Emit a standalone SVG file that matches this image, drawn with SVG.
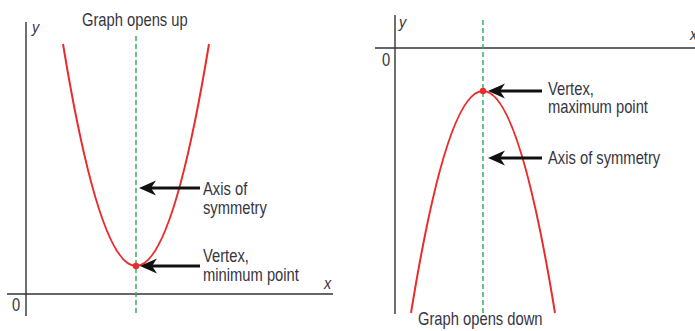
<svg xmlns="http://www.w3.org/2000/svg" width="695" height="331" viewBox="0 0 695 331">
<style>
.t{font-family:"Liberation Sans",Arimo,Arial,sans-serif;font-size:18px;fill:#35353f}
.v{font-family:"Liberation Sans",Arimo,Arial,sans-serif;font-size:17px;font-style:italic;fill:#35353f}
.ax{stroke:#333;stroke-width:1.4;fill:none}
.sym{stroke:#25b050;stroke-width:1.4;stroke-dasharray:5,3;fill:none}
.cur{stroke:#ea2a2c;stroke-width:2;fill:none}
.arr{stroke:#111;stroke-width:3;fill:none;marker-end:url(#ah)}
</style>
<defs>
<marker id="ah" markerUnits="userSpaceOnUse" markerWidth="20" markerHeight="18" viewBox="0 -9 20 18" refX="5" refY="0" orient="auto">
<path d="M0,-7.5 L17,0 L0,7.5 L5,0 Z" fill="#111"/>
</marker>
</defs>
<g id="left-axes">
<line class="ax" x1="26" y1="22" x2="26" y2="316"/>
<line class="ax" x1="7" y1="294" x2="333" y2="294"/>
<text class="v" transform="matrix(0.85,0,0,1,32,33)">y</text>
<text class="v" transform="matrix(0.85,0,0,1,324,289)">x</text>
<text class="t" transform="matrix(0.82,0,0,1,12,311)">0</text>
</g>
<g id="left-graph">
<line class="sym" x1="136" y1="36" x2="136" y2="316"/>
<path class="cur" d="M63,44 Q136,488 209,44"/>
<circle cx="136" cy="266" r="3.2" fill="#ea2a2c"/>
<text class="t" transform="matrix(0.82,0,0,1,82,26)">Graph opens up</text>
</g>
<g id="left-labels">
<text class="t" transform="matrix(0.82,0,0,1,203,195)">Axis of</text>
<text class="t" transform="matrix(0.82,0,0,1,203,214)">symmetry</text>
<text class="t" transform="matrix(0.82,0,0,1,203,262)">Vertex,</text>
<text class="t" transform="matrix(0.82,0,0,1,203,281)">minimum point</text>
</g>
<g id="right-axes">
<line class="ax" x1="395" y1="15" x2="395" y2="314"/>
<line class="ax" x1="375" y1="48" x2="695" y2="48"/>
<text class="v" transform="matrix(0.85,0,0,1,399,28)">y</text>
<text class="v" transform="matrix(0.85,0,0,1,690,40)">x</text>
<text class="t" transform="matrix(0.82,0,0,1,382,66)">0</text>
</g>
<g id="right-graph">
<line class="sym" x1="483" y1="20" x2="483" y2="314"/>
<path class="cur" d="M411,313 Q483,-131 555,313"/>
<circle cx="483" cy="91" r="3.2" fill="#ea2a2c"/>
<text class="t" transform="matrix(0.82,0,0,1,418,325)">Graph opens down</text>
</g>
<g id="right-labels">
<text class="t" transform="matrix(0.82,0,0,1,548,95)">Vertex,</text>
<text class="t" transform="matrix(0.82,0,0,1,548,113)">maximum point</text>
<text class="t" transform="matrix(0.82,0,0,1,548,164)">Axis of symmetry</text>
</g>
<g id="connectors">
<line class="arr" x1="200" y1="188" x2="151" y2="188"/>
<line class="arr" x1="200" y1="266" x2="152" y2="266"/>
<line class="arr" x1="542" y1="91" x2="500" y2="91"/>
<line class="arr" x1="542" y1="158" x2="500" y2="158"/>
</g>
</svg>
